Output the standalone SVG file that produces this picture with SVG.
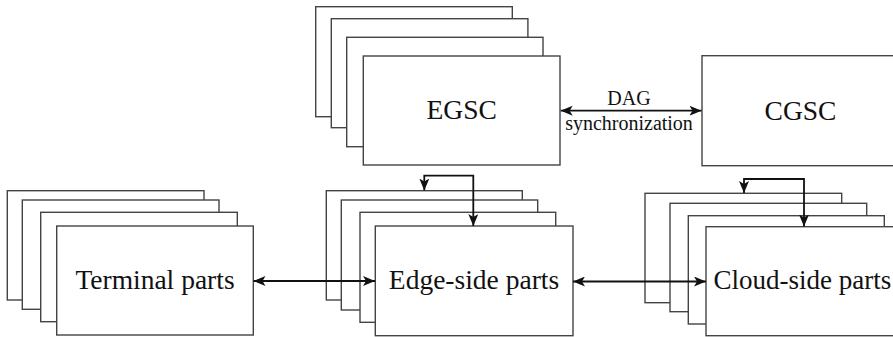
<svg xmlns="http://www.w3.org/2000/svg" width="893" height="337" viewBox="0 0 893 337">
  <style>
    .box { fill: #ffffff; stroke: #444444; stroke-width: 1.4; }
    .lbl { font-size: 27.5px; fill: #111111; text-anchor: middle; }
    .lbl-left { font-size: 27px; fill: #111111; text-anchor: start; }
    .small { font-size: 20px; fill: #111111; text-anchor: middle; }
    .wire { fill: none; stroke: #111111; stroke-width: 1.8; }
  </style>
  <defs>
    <marker id="head" viewBox="0 0 12 10" refX="12" refY="5" markerWidth="12" markerHeight="10" markerUnits="userSpaceOnUse" orient="auto-start-reverse">
      <path d="M0,0 L12,5 L0,10 L3,5 z" fill="#111111"/>
    </marker>
  </defs>
  <rect width="893" height="337" fill="#ffffff"/>

  <g font-family="'Liberation Serif', 'DejaVu Serif', serif">
  <!-- edge global state controller stack -->
  <g id="egsc">
    <rect class="box" x="315.7" y="6.7" width="196.6" height="110"/>
    <rect class="box" x="331.3" y="18.7" width="196.6" height="109"/>
    <rect class="box" x="346.7" y="37.3" width="196.3" height="109.4"/>
    <rect class="box" x="363.3" y="56" width="196.7" height="109"/>
    <text class="lbl" x="461.7" y="119">EGSC</text>
  </g>

  <!-- cloud global state controller -->
  <g id="cgsc">
    <rect class="box" x="702" y="55.7" width="197" height="110"/>
    <text class="lbl" x="800.5" y="119.5">CGSC</text>
  </g>

  <!-- terminal stack -->
  <g id="terminal">
    <rect class="box" x="7.3" y="190.7" width="196.7" height="109.3"/>
    <rect class="box" x="22.3" y="200" width="196.7" height="109.3"/>
    <rect class="box" x="40.7" y="212.3" width="196.6" height="109.4"/>
    <rect class="box" x="56.7" y="226" width="196.6" height="109"/>
    <text class="lbl" x="155" y="288.5">Terminal parts</text>
  </g>

  <!-- edge-side stack -->
  <g id="edge">
    <rect class="box" x="326.3" y="190.7" width="196" height="109.3"/>
    <rect class="box" x="341.3" y="200" width="196.4" height="110"/>
    <rect class="box" x="360" y="212.3" width="195.7" height="110"/>
    <rect class="box" x="375.3" y="226" width="197.7" height="109.7"/>
    <text class="lbl" x="474" y="288.5">Edge-side parts</text>
  </g>

  <!-- cloud-side stack -->
  <g id="cloud">
    <rect class="box" x="645" y="193.3" width="196.7" height="109.4"/>
    <rect class="box" x="670" y="203.3" width="196.7" height="108.4"/>
    <rect class="box" x="688.3" y="215.7" width="196" height="108.3"/>
    <rect class="box" x="706" y="226.7" width="197" height="109"/>
    <text class="lbl-left" x="713.5" y="289">Cloud-side parts</text>
  </g>

  <!-- connectors -->
  <g id="connectors">
    <path class="wire" d="M560.7,110.7 L701.5,110.7" marker-start="url(#head)" marker-end="url(#head)"/>
    <text class="small" x="629" y="105">DAG</text>
    <text class="small" x="629" y="129.5">synchronization</text>

    <path class="wire" d="M253.5,281 L375,281" marker-start="url(#head)" marker-end="url(#head)"/>
    <path class="wire" d="M573,281.5 L706,281.5" marker-start="url(#head)" marker-end="url(#head)"/>

    <path class="wire" d="M424.3,190.5 L424.3,175.7 L473.3,175.7 L473.3,226" marker-start="url(#head)" marker-end="url(#head)"/>
    <path class="wire" d="M744,193 L744,179 L804,179 L804,226.5" marker-start="url(#head)" marker-end="url(#head)"/>
  </g>
  </g>
</svg>
